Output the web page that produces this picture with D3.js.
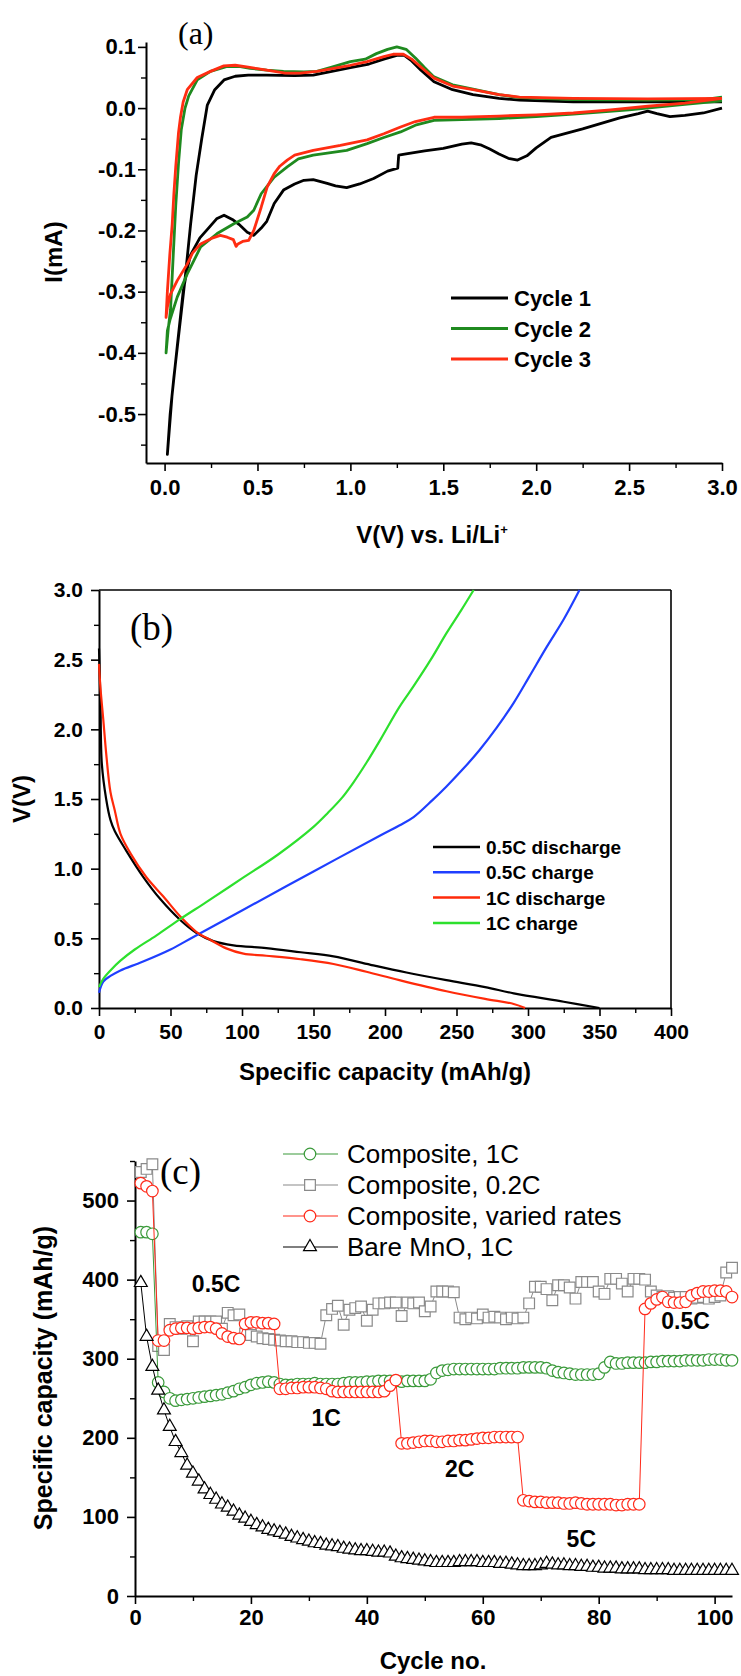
<!DOCTYPE html>
<html>
<head>
<meta charset="utf-8">
<script src="https://cdn.jsdelivr.net/npm/d3@7"></script>
<style>
  body { margin: 0; background: #fff; }
  svg { display: block; }
  text { font-family: "Liberation Sans", Arial, sans-serif; fill: #000; }
  .tick text { font-weight: bold; }
</style>
</head>
<body>
<div id="chart"></div>
<script>
// ---------- (a) cyclic voltammetry: [V, mA], cathodic scan then anodic scan
const cvCycle1 = [
  [3.0,0.0],[2.9,-0.008],[2.8,-0.012],[2.72,-0.014],[2.65,-0.009],[2.6,-0.005],[2.55,-0.009],
  [2.45,-0.016],[2.35,-0.025],[2.25,-0.034],[2.15,-0.042],[2.08,-0.048],[2.0,-0.065],[1.95,-0.078],
  [1.9,-0.085],[1.85,-0.082],[1.8,-0.075],[1.75,-0.067],[1.7,-0.06],[1.65,-0.057],[1.6,-0.059],
  [1.5,-0.066],[1.4,-0.07],[1.3,-0.075],[1.26,-0.077],[1.255,-0.098],[1.2,-0.103],[1.125,-0.115],
  [1.05,-0.124],[0.98,-0.13],[0.92,-0.127],[0.875,-0.123],[0.8,-0.117],[0.75,-0.118],[0.7,-0.124],
  [0.64,-0.134],[0.59,-0.156],[0.55,-0.185],[0.52,-0.196],[0.48,-0.208],[0.445,-0.203],[0.4,-0.19],
  [0.37,-0.183],[0.32,-0.175],[0.28,-0.181],[0.24,-0.195],[0.19,-0.212],[0.14,-0.24],[0.12,-0.265],
  [0.1,-0.3],[0.068,-0.39],[0.04,-0.47],[0.015,-0.566],
  [0.03,-0.5],[0.05,-0.44],[0.08,-0.36],[0.11,-0.28],[0.14,-0.19],[0.17,-0.11],[0.2,-0.05],
  [0.23,0.005],[0.27,0.03],[0.32,0.046],[0.38,0.052],[0.45,0.054],[0.55,0.054],[0.7,0.053],
  [0.8,0.054],[0.9,0.06],[1.0,0.066],[1.1,0.072],[1.18,0.08],[1.25,0.086],[1.29,0.086],[1.33,0.077],
  [1.38,0.062],[1.45,0.043],[1.55,0.03],[1.66,0.022],[1.8,0.016],[1.91,0.013],[2.2,0.01],
  [2.6,0.01],[3.0,0.01]
];
const cvCycle2 = [
  [3.0,0.012],[2.8,0.006],[2.5,-0.003],[2.2,-0.01],[2.0,-0.014],[1.8,-0.017],[1.6,-0.019],
  [1.45,-0.02],[1.35,-0.028],[1.27,-0.039],[1.18,-0.048],[1.09,-0.058],[0.98,-0.069],[0.8,-0.077],
  [0.72,-0.083],[0.66,-0.096],[0.59,-0.113],[0.52,-0.14],[0.48,-0.167],[0.445,-0.178],[0.373,-0.189],
  [0.283,-0.205],[0.194,-0.227],[0.122,-0.271],[0.068,-0.309],[0.03,-0.345],[0.015,-0.364],[0.008,-0.40],
  [0.02,-0.36],[0.032,-0.33],[0.045,-0.25],[0.06,-0.16],[0.075,-0.09],[0.09,-0.035],[0.11,0.0],
  [0.13,0.02],[0.176,0.046],[0.247,0.06],[0.337,0.068],[0.4,0.068],[0.46,0.065],[0.55,0.062],
  [0.64,0.06],[0.75,0.059],[0.82,0.06],[0.9,0.067],[1.0,0.076],[1.08,0.08],[1.14,0.089],[1.2,0.096],
  [1.25,0.1],[1.3,0.096],[1.35,0.082],[1.4,0.066],[1.45,0.051],[1.55,0.038],[1.66,0.031],[1.8,0.022],
  [1.91,0.017],[2.2,0.014],[2.6,0.013],[2.9,0.014],[3.0,0.018]
];
const cvCycle3 = [
  [3.0,0.016],[2.8,0.008],[2.6,0.003],[2.4,-0.003],[2.2,-0.008],[2.0,-0.011],[1.8,-0.013],
  [1.6,-0.015],[1.45,-0.015],[1.35,-0.022],[1.27,-0.031],[1.18,-0.042],[1.09,-0.052],[0.946,-0.061],
  [0.8,-0.069],[0.7,-0.077],[0.66,-0.085],[0.62,-0.095],[0.59,-0.107],[0.552,-0.129],[0.52,-0.162],
  [0.48,-0.2],[0.453,-0.216],[0.42,-0.218],[0.395,-0.222],[0.385,-0.226],[0.37,-0.215],[0.337,-0.211],
  [0.3,-0.208],[0.26,-0.212],[0.194,-0.222],[0.15,-0.237],[0.122,-0.255],[0.068,-0.282],[0.032,-0.304],
  [0.015,-0.325],[0.008,-0.342],
  [0.015,-0.3],[0.028,-0.24],[0.041,-0.19],[0.05,-0.14],[0.06,-0.096],[0.075,-0.04],[0.086,-0.014],
  [0.1,0.01],[0.122,0.03],[0.176,0.05],[0.247,0.06],[0.319,0.069],[0.38,0.07],[0.45,0.067],
  [0.55,0.062],[0.65,0.057],[0.73,0.057],[0.82,0.06],[0.91,0.065],[1.0,0.07],[1.09,0.076],
  [1.18,0.084],[1.23,0.088],[1.285,0.088],[1.33,0.08],[1.38,0.067],[1.45,0.049],[1.55,0.036],
  [1.66,0.03],[1.8,0.022],[1.91,0.018],[2.2,0.016],[2.6,0.015],[3.0,0.016]
];
const cvNames = ["Cycle 1", "Cycle 2", "Cycle 3"];

// ---------- (b) charge/discharge: [mAh/g, V]
const dis05C = [
  [0,2.58],[1,2.2],[2,1.75],[5,1.5],[8,1.35],[11,1.27],[19,1.13],[31,0.94],[43,0.78],[57,0.63],
  [68,0.54],[80,0.48],[94,0.45],[117,0.43],[141,0.40],[164,0.37],[190,0.31],[215,0.255],[243,0.20],
  [270,0.15],[290,0.105],[325,0.045],[350,0.0]
];
const chg05C = [
  [0,0.11],[3,0.19],[8,0.23],[15,0.27],[30,0.33],[50,0.42],[66,0.51],[100,0.70],[150,0.98],
  [197,1.24],[210,1.31],[220,1.37],[233,1.49],[243,1.59],[255,1.72],[266,1.85],[278,2.01],
  [290,2.19],[301,2.38],[313,2.59],[325,2.79],[336,3.0]
];
const dis1C = [
  [0,2.47],[1,2.3],[3,2.07],[5,1.83],[8,1.55],[11,1.42],[15,1.25],[22,1.11],[33,0.94],[45,0.80],
  [57,0.655],[68,0.547],[78,0.488],[89,0.428],[101,0.39],[117,0.375],[141,0.35],[164,0.316],
  [187,0.26],[210,0.20],[243,0.12],[270,0.065],[290,0.029],[298,0.0]
];
const chg1C = [
  [0,0.15],[3,0.21],[8,0.27],[15,0.34],[25,0.42],[40,0.52],[57,0.64],[75,0.76],[100,0.93],
  [125,1.10],[150,1.30],[160,1.40],[170,1.51],[178,1.62],[187,1.76],[197,1.93],[210,2.16],
  [220,2.31],[232,2.50],[243,2.69],[253,2.85],[262,3.0]
];
const gcdNames = ["0.5C discharge", "0.5C charge", "1C discharge", "1C charge"];

// ---------- (c) cycling, capacity (mAh/g) for cycles 1..103
const composite1C = [
  460,460,458,
  270,258,250,247,248,249,250,251,252,253,254,255,257,259,262,264,267,269,270,271,270,
  268,267,267,268,268,268,269,268,268,268,268,269,270,270,270,271,271,272,272,272,272,271,272,272,272,272,274,
  282,285,286,287,287,287,287,287,287,287,287,288,288,288,288,289,289,289,289,288,285,283,282,281,280,280,280,280,281,
  289,296,294,294,295,295,295,295,296,296,297,297,297,297,298,298,298,298,299,299,299,298,298
];
const composite02C = [
  536,540,546,316,311,
  344,340,338,341,322,
  347,347,347,347,338,
  358,355,356,
  332,330,328,326,325,324,323,322,322,321,321,320,320,319,
  355,363,367,343,362,364,366,348,362,370,370,371,371,354,371,370,371,360,366,
  385,385,385,384,
  352,350,352,351,356,352,353,352,350,352,351,352,
  370,391,391,388,374,393,393,390,376,397,397,397,385,
  382,401,401,395,385,401,401,400,385,380,
  378,379,377,378,378,376,377,378,376,378,380,409,415
];
const compositeVaried = [
  522,518,512,
  323,323,
  336,338,339,339,338,339,340,340,338,
  332,328,326,325,
  344,346,346,345,345,344,
  262,262,263,263,264,264,264,263,262,259,258,258,258,258,258,258,258,258,259,266,273,
  193,193,194,195,196,196,195,195,196,196,197,197,198,199,200,200,201,201,201,201,201,
  121,120,119,119,118,118,118,117,117,118,117,116,116,116,116,116,115,115,116,116,116,
  363,370,375,378,372,371,371,372,380,383,385,385,386,386,385,378
];
const bareMnO = [
  396,328,290,260,235,214,195,181,165,155,
  145,135,128,122,116,112,107,102,98,94,
  90,87,84,82,80,78,75,73,71,69,
  67,66,64,63,62,60,59,58,57,57,
  56,55,55,54,50,48,47,46,45,44,
  43,42,42,42,42,43,43,43,43,42,
  42,42,41,41,40,39,38,38,38,39,
  41,40,39,39,38,38,37,37,36,36,
  35,35,35,34,34,34,34,33,33,33,
  33,33,32,32,32,32,32,32,32,32,
  32,32,32
];
const rateLabels = ["0.5C", "1C", "2C", "5C", "0.5C"];
const rateLabelPos = [[14, 395], [33, 225], [56, 160], [77, 72], [95, 348]];

const W = 741, H = 1676;
const svg = d3.select("#chart").append("svg").attr("width", W).attr("height", H);

// generic axis helper: major ticks with labels + minor ticks
function addAxis(g, axisFn, scale, majors, minors, fmt, fs, pad) {
  const major = g.append("g").call(axisFn(scale).tickValues(majors).tickSize(8)
      .tickSizeOuter(0).tickPadding(pad).tickFormat(fmt));
  major.select(".domain").attr("stroke-width", 2);
  major.selectAll(".tick line").attr("stroke-width", 1.6);
  major.selectAll(".tick text").style("font-size", fs + "px").attr("fill", "#000");
  const minor = g.append("g").call(axisFn(scale).tickValues(minors).tickSize(5)
      .tickSizeOuter(0).tickFormat(""));
  minor.select(".domain").remove();
  minor.selectAll(".tick line").attr("stroke-width", 1.4);
  return major;
}
const f1 = d => d.toFixed(1);
const f0 = d => d.toFixed(0);

// =============== panel (a)
const xA = d3.scaleLinear().domain([-0.1, 3.0]).range([146, 722]);
const yA = d3.scaleLinear().domain([-0.58, 0.108]).range([463, 42]);
const gA = svg.append("g");
addAxis(gA.append("g").attr("transform", "translate(0,463)"), d3.axisBottom, xA,
  [0, 0.5, 1, 1.5, 2, 2.5, 3], [0.25, 0.75, 1.25, 1.75, 2.25, 2.75], f1, 22, 8);
addAxis(gA.append("g").attr("transform", "translate(146,0)"), d3.axisLeft, yA,
  [-0.5, -0.4, -0.3, -0.2, -0.1, 0, 0.1], [-0.55, -0.45, -0.35, -0.25, -0.15, -0.05, 0.05], f1, 22, 2);

const cvColors = ["#000000", "#1f8a1f", "#ff2d12"];
const lineA = d3.line().x(d => xA(d[0])).y(d => yA(d[1]));
[cvCycle1, cvCycle2, cvCycle3].forEach((s, i) => {
  gA.append("path").attr("d", lineA(s)).attr("fill", "none")
    .attr("stroke", cvColors[i]).attr("stroke-width", 2.8).attr("stroke-linejoin", "round");
});
cvNames.forEach((n, i) => {
  const y = 298 + i * 30.5;
  gA.append("line").attr("x1", 451).attr("x2", 508).attr("y1", y).attr("y2", y)
    .attr("stroke", cvColors[i]).attr("stroke-width", 3);
  gA.append("text").attr("x", 514).attr("y", y + 8).text(n)
    .style("font-size", "22px").style("font-weight", "bold");
});
gA.append("text").attr("transform", "translate(62,252) rotate(-90)").attr("text-anchor", "middle")
  .style("font-size", "24px").style("font-weight", "bold").text("I(mA)");
const xlabA = gA.append("text").attr("x", 432).attr("y", 543).attr("text-anchor", "middle")
  .style("font-size", "24px").style("font-weight", "bold");
xlabA.append("tspan").text("V(V) vs. Li/Li");
xlabA.append("tspan").attr("dy", -9).style("font-size", "13px").text("+");
gA.append("text").attr("x", 178).attr("y", 44).text("(a)")
  .style("font-family", "'Liberation Serif', 'Times New Roman', serif").style("font-size", "32px");

// =============== panel (b)
const xB = d3.scaleLinear().domain([0, 400]).range([99, 671]);
const yB = d3.scaleLinear().domain([0, 3]).range([1008, 590]);
const gB = svg.append("g");
addAxis(gB.append("g").attr("transform", "translate(0,1008)"), d3.axisBottom, xB,
  d3.range(0, 401, 50), d3.range(25, 400, 50), f0, 21, 8);
addAxis(gB.append("g").attr("transform", "translate(99,0)"), d3.axisLeft, yB,
  [0, 0.5, 1, 1.5, 2, 2.5, 3], [0.25, 0.75, 1.25, 1.75, 2.25, 2.75], f1, 21, 8);
gB.append("line").attr("x1", 99).attr("x2", 671).attr("y1", 590).attr("y2", 590)
  .attr("stroke", "#000").attr("stroke-width", 1.6);
gB.append("line").attr("x1", 671).attr("x2", 671).attr("y1", 590).attr("y2", 1008)
  .attr("stroke", "#000").attr("stroke-width", 1.6);

const gcdColors = ["#000000", "#1f3fff", "#ff2a0a", "#2de02d"];
const lineB = d3.line().x(d => xB(d[0])).y(d => yB(d[1])).curve(d3.curveCatmullRom.alpha(0.5));
[dis05C, chg05C, dis1C, chg1C].forEach((s, i) => {
  gB.append("path").attr("d", lineB(s)).attr("fill", "none")
    .attr("stroke", gcdColors[i]).attr("stroke-width", 2.2);
});
gcdNames.forEach((n, i) => {
  const y = 847 + i * 25.3;
  gB.append("line").attr("x1", 433).attr("x2", 480).attr("y1", y).attr("y2", y)
    .attr("stroke", gcdColors[i]).attr("stroke-width", 2.5);
  gB.append("text").attr("x", 486).attr("y", y + 7).text(n)
    .style("font-size", "19px").style("font-weight", "bold");
});
gB.append("text").attr("transform", "translate(30,799) rotate(-90)").attr("text-anchor", "middle")
  .style("font-size", "24px").style("font-weight", "bold").text("V(V)");
gB.append("text").attr("x", 385).attr("y", 1080).attr("text-anchor", "middle")
  .style("font-size", "24px").style("font-weight", "bold").text("Specific capacity (mAh/g)");
gB.append("text").attr("x", 130).attr("y", 640).text("(b)")
  .style("font-family", "'Liberation Serif', 'Times New Roman', serif").style("font-size", "37px");

// =============== panel (c)
const xC = d3.scaleLinear().domain([0, 103]).range([135, 732]);
const yC = d3.scaleLinear().domain([0, 550]).range([1596, 1161]);
const gC = svg.append("g");
addAxis(gC.append("g").attr("transform", "translate(0,1596)"), d3.axisBottom, xC,
  [0, 20, 40, 60, 80, 100], [10, 30, 50, 70, 90], f0, 22, 5);
addAxis(gC.append("g").attr("transform", "translate(135,0)"), d3.axisLeft, yC,
  [0, 100, 200, 300, 400, 500], [50, 150, 250, 350, 450, 550], f0, 22, 8);

const cycSeries = [
  { name: "Composite, 0.2C", values: composite02C, color: "#8a8a8a", symbol: d3.symbolSquare, size: 115 },
  { name: "Composite, 1C", values: composite1C, color: "#3a9a3a", symbol: d3.symbolCircle, size: 105 },
  { name: "Composite, varied rates", values: compositeVaried, color: "#ff2a1a", symbol: d3.symbolCircle, size: 105 },
  { name: "Bare MnO, 1C", values: bareMnO, color: "#000000", symbol: d3.symbolTriangle, size: 72 }
];
const lineC = d3.line().x((d, i) => xC(i + 1)).y(d => yC(d));
cycSeries.forEach(s => {
  const g = gC.append("g");
  g.append("path").attr("d", lineC(s.values)).attr("fill", "none")
    .attr("stroke", s.color).attr("stroke-width", 1);
  g.selectAll("path.m").data(s.values).join("path").attr("class", "m")
    .attr("d", d3.symbol().type(s.symbol).size(s.size))
    .attr("transform", (d, i) => `translate(${xC(i + 1)},${yC(d)})`)
    .attr("fill", "#fff").attr("stroke", s.color).attr("stroke-width", 1.2);
});

// legend (c), order as in the original
const legOrder = [1, 0, 2, 3];
legOrder.forEach((k, i) => {
  const s = cycSeries[k];
  const y = 1154 + i * 31;
  gC.append("line").attr("x1", 283).attr("x2", 338).attr("y1", y).attr("y2", y)
    .attr("stroke", s.color).attr("stroke-width", 1.2);
  gC.append("path").attr("d", d3.symbol().type(s.symbol).size(s.size)())
    .attr("transform", `translate(310,${y})`).attr("fill", "#fff")
    .attr("stroke", s.color).attr("stroke-width", 1.2);
  gC.append("text").attr("x", 347).attr("y", y + 9).text(s.name)
    .style("font-size", "26px").attr("fill", "#111");
});

rateLabels.forEach((t, i) => {
  gC.append("text").attr("x", xC(rateLabelPos[i][0])).attr("y", yC(rateLabelPos[i][1]) + 8)
    .attr("text-anchor", "middle").style("font-size", "23px").style("font-weight", "bold").text(t);
});

gC.append("text").attr("transform", "translate(52,1378) rotate(-90)").attr("text-anchor", "middle")
  .style("font-size", "25px").style("font-weight", "bold").text("Specific capacity (mAh/g)");
gC.append("text").attr("x", 433).attr("y", 1669).attr("text-anchor", "middle")
  .style("font-size", "24px").style("font-weight", "bold").text("Cycle no.");
gC.append("text").attr("x", 160).attr("y", 1184).text("(c)")
  .style("font-family", "'Liberation Serif', 'Times New Roman', serif").style("font-size", "37px");
</script>
</body>
</html>
